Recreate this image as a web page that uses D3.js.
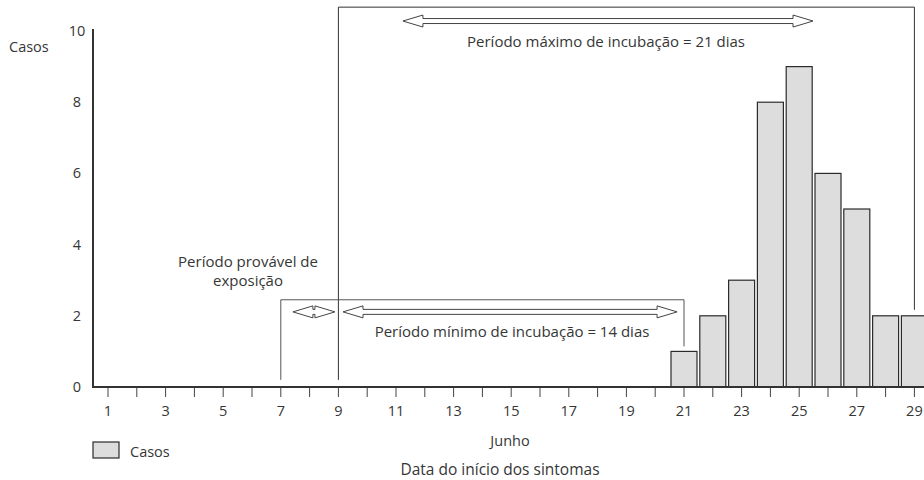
<!DOCTYPE html>
<meta charset="utf-8">
<style>
body { margin: 0; background: #fff; }
text { font-family: "Open Sans", "Noto Sans", sans-serif; fill: #363636; }
</style>
<body>
<script src="https://cdn.jsdelivr.net/npm/d3@7"></script>
<script>
// dias de junho e casos por dia (início dos sintomas)
var dias = [1, 2, 3, 4, 5, 6, 7, 8, 9, 10, 11, 12, 13, 14, 15, 16, 17, 18, 19, 20, 21, 22, 23, 24, 25, 26, 27, 28, 29];
var casos = [0, 0, 0, 0, 0, 0, 0, 0, 0, 0, 0, 0, 0, 0, 0, 0, 0, 0, 0, 0, 1, 2, 3, 8, 9, 6, 5, 2, 2];
var rotulosX = [1, 3, 5, 7, 9, 11, 13, 15, 17, 19, 21, 23, 25, 27, 29];
var rotulosY = [0, 2, 4, 6, 8, 10];

// períodos (em dias) usados nas anotações
var exposicao = [7, 9];
var incubMin = [7, 21];
var incubMax = [9, 29];

var width = 924, height = 480;

var svg = d3.select("body").append("svg")
  .attr("width", width).attr("height", height);

var x = d3.scaleLinear().domain([1, 29]).range([108, 914.4]);
var y = d3.scaleLinear().domain([0, 10]).range([387, 31]);
var barW = 26;

// barras
svg.append("g")
  .selectAll("rect")
  .data(dias.map(function(d, i) { return { dia: d, n: casos[i] }; }).filter(function(d) { return d.n > 0; }))
  .enter()
  .append("rect")
  .attr("x", function(d) { return x(d.dia) - barW / 2; })
  .attr("y", function(d) { return y(d.n); })
  .attr("width", barW)
  .attr("height", function(d) { return y(0) - y(d.n); })
  .attr("fill", "#dddddd")
  .attr("stroke", "#2b2b2b")
  .attr("stroke-width", 1.2);

// eixo x: marcas em todos os dias, rótulos nos ímpares
var eixoX = svg.append("g").attr("transform", "translate(0," + y(0) + ")");
eixoX.selectAll("line.tick")
  .data(dias)
  .enter()
  .append("line")
  .attr("x1", function(d) { return x(d); })
  .attr("x2", function(d) { return x(d); })
  .attr("y1", 0).attr("y2", 10)
  .attr("stroke", "#444").attr("stroke-width", 1);
eixoX.selectAll("text")
  .data(rotulosX)
  .enter()
  .append("text")
  .attr("x", function(d) { return x(d); })
  .attr("y", 29)
  .attr("text-anchor", "middle")
  .attr("font-size", "14.5px")
  .text(function(d) { return d; });
eixoX.append("line")
  .attr("x1", 92).attr("x2", width)
  .attr("stroke", "#333").attr("stroke-width", 2);

// eixo y
svg.append("line")
  .attr("x1", 93).attr("x2", 93)
  .attr("y1", y(10) - 2).attr("y2", y(0))
  .attr("stroke", "#333").attr("stroke-width", 2);
svg.append("g")
  .selectAll("text")
  .data(rotulosY)
  .enter()
  .append("text")
  .attr("x", 77)
  .attr("y", function(d) { return y(d) + 5; })
  .attr("text-anchor", "middle")
  .attr("font-size", "14.5px")
  .text(function(d) { return d; });

svg.append("text").attr("x", 9).attr("y", 52).attr("font-size", "14.5px").text("Casos");

// seta dupla vazada
function seta(x0, x1, yc) {
  var h = Math.min(20, (x1 - x0) / 2 - 1), hh = 6, sh = 2.5;
  var p = [[x0, yc], [x0 + h, yc - hh], [x0 + h, yc - sh], [x1 - h, yc - sh], [x1 - h, yc - hh], [x1, yc],
           [x1 - h, yc + hh], [x1 - h, yc + sh], [x0 + h, yc + sh], [x0 + h, yc + hh]];
  svg.append("path")
    .attr("d", "M" + p.join("L") + "Z")
    .attr("fill", "#fff")
    .attr("stroke", "#444")
    .attr("stroke-width", 1);
}

// colchete do período máximo
svg.append("path")
  .attr("d", "M" + x(incubMax[0]) + "," + y(0.2) + "V" + y(10.67) + "H" + x(incubMax[1]) + "V" + (y(casos[28]) - 6))
  .attr("fill", "none").attr("stroke", "#333").attr("stroke-width", 1);

// colchete do período mínimo
svg.append("path")
  .attr("d", "M" + x(incubMin[0]) + "," + y(0.2) + "V" + y(2.45) + "H" + x(incubMin[1]) + "V" + (y(casos[20]) - 5))
  .attr("fill", "none").attr("stroke", "#555").attr("stroke-width", 1);

seta(x(11.24), x(25.48), y(10.28));
seta(x(exposicao[0] + 0.42), x(exposicao[1] - 0.12), y(2.11));
seta(x(9.16), x(20.76), y(2.11));

svg.append("text").attr("x", 606).attr("y", 47).attr("text-anchor", "middle").attr("font-size", "15px")
  .text("Período máximo de incubação = 21 dias");
svg.append("text").attr("x", 512).attr("y", 337).attr("text-anchor", "middle").attr("font-size", "15px")
  .text("Período mínimo de incubação = 14 dias");
svg.append("text").attr("x", 248).attr("y", 267).attr("text-anchor", "middle").attr("font-size", "15px")
  .text("Período provável de");
svg.append("text").attr("x", 248).attr("y", 286).attr("text-anchor", "middle").attr("font-size", "15px")
  .text("exposição");

// títulos do eixo x
svg.append("text").attr("x", 510).attr("y", 446).attr("text-anchor", "middle").attr("font-size", "14.5px").text("Junho");
svg.append("text").attr("x", 500).attr("y", 475).attr("text-anchor", "middle").attr("font-size", "15.5px")
  .text("Data do início dos sintomas");

// legenda
svg.append("rect").attr("x", 93).attr("y", 442).attr("width", 26).attr("height", 16)
  .attr("fill", "#dddddd").attr("stroke", "#2b2b2b").attr("stroke-width", 1.2);
svg.append("text").attr("x", 130).attr("y", 457).attr("font-size", "14.5px").text("Casos");
</script>
</body>
